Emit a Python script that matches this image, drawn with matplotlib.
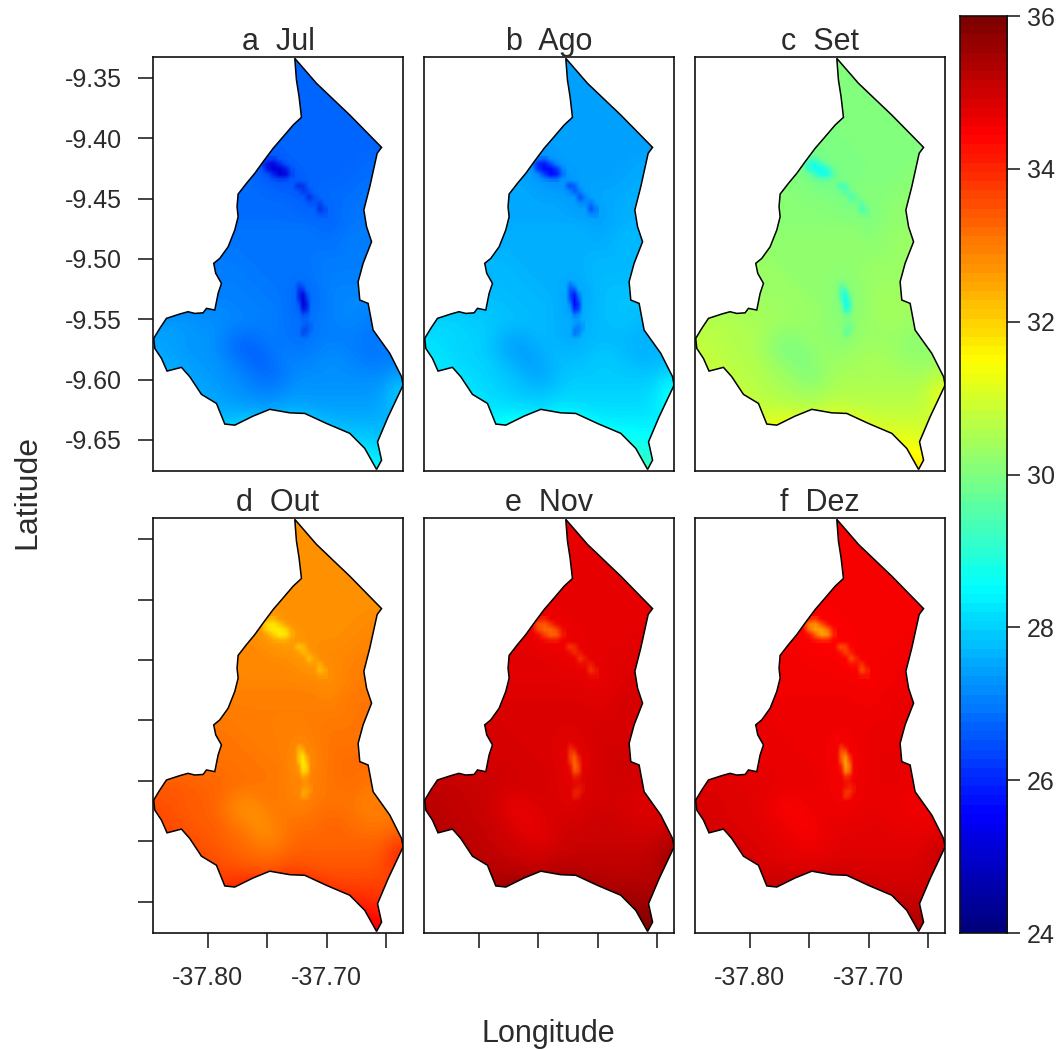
import numpy as np
import matplotlib
matplotlib.use("Agg")
import matplotlib.pyplot as plt
from matplotlib.patches import Polygon
from matplotlib.colors import LinearSegmentedColormap, Normalize

plt.rcParams['font.family'] = ['Liberation Sans', 'DejaVu Sans']

panel_titles = ["a  Jul", "b  Ago", "c  Set", "d  Out", "e  Nov", "f  Dez"]
# Level of each month (deg C), its spatial contrast, and the temperature of its spots
month_base = [27.0, 27.7, 30.3, 33.1, 34.95, 34.7]
month_gain = [1.0, 1.0, 1.0, 1.0, 0.7, 0.5]
spot_temp = [25.1, 25.6, 28.7, 31.7, 33.3, 32.6]

lon_ticks = [-37.80, -37.75, -37.70, -37.65]
lon_labels = ["-37.80", "", "-37.70", ""]
lat_ticks = [-9.35, -9.40, -9.45, -9.50, -9.55, -9.60, -9.65]
lat_labels = ["-9.35", "-9.40", "-9.45", "-9.50", "-9.55", "-9.60", "-9.65"]
cbar_ticks = [24, 26, 28, 30, 32, 34, 36]
palette = ["#00007F", "blue", "#007FFF", "cyan", "#7FFF7F", "yellow", "#FF7F00", "red", "#7F0000"]

xlim = (-37.846, -37.636)
ylim = (-9.6757, -9.3326)

border_lon = [-37.7269, -37.7255, -37.7233, -37.7213, -37.7283, -37.7367, -37.7451, -37.7535,
              -37.7605, -37.7675, -37.7745, -37.7754, -37.7745, -37.7773, -37.7829, -37.7899,
              -37.7950, -37.7933, -37.7885, -37.7913, -37.7941, -37.8011, -37.8039, -37.8109,
              -37.8166, -37.8235, -37.8347, -37.8403, -37.8454, -37.8445, -37.8389, -37.8342,
              -37.8221, -37.8151, -37.8053, -37.7927, -37.7857, -37.7773, -37.7619, -37.7479,
              -37.7311, -37.7185, -37.7003, -37.6807, -37.6681, -37.6582, -37.6540, -37.6574,
              -37.6485, -37.6359, -37.6372, -37.6471, -37.6611, -37.6653, -37.6723, -37.6737,
              -37.6695, -37.6624, -37.6666, -37.6689, -37.6639, -37.6577, -37.6540, -37.6807,
              -37.7087]
border_lat = [-9.3337, -9.3517, -9.3655, -9.3826, -9.3890, -9.3987, -9.4083, -9.4194,
              -9.4290, -9.4373, -9.4462, -9.4567, -9.4650, -9.4760, -9.4899, -9.4995,
              -9.5036, -9.5119, -9.5202, -9.5285, -9.5423, -9.5409, -9.5446, -9.5451,
              -9.5437, -9.5456, -9.5492, -9.5575, -9.5658, -9.5741, -9.5824, -9.5929,
              -9.5898, -9.5976, -9.6122, -9.6197, -9.6368, -9.6377, -9.6302, -9.6246,
              -9.6275, -9.6280, -9.6363, -9.6445, -9.6570, -9.6744, -9.6667, -9.6515,
              -9.6308, -9.6045, -9.5976, -9.5782, -9.5589, -9.5368, -9.5340, -9.5189,
              -9.5036, -9.4857, -9.4733, -9.4594, -9.4401, -9.4124, -9.4075, -9.3807,
              -9.3544]

# Temperature anomaly, tenths of deg C, north (top) to south, west to east
anomaly = [
 [-3]*18,
 [-3]*18,
 [-3]*18,
 [-3]*18,
 [-3]*18,
 [-3]*18,
 [-3,-3,-3,-3,-3,-3,-3,-3,-4,-3,-3,-3,-3,-3,-3,-3,-3,-3],
 [-3,-3,-3,-3,-3,-3,-3,-4,-6,-4,-3,-3,-3,-3,-3,-2,-2,-2],
 [-2,-2,-2,-2,-2,-2,-2,-3,-4,-6,-4,-3,-3,-3,-2,-2,-2,-2],
 [-2,-2,-2,-2,-2,-2,-2,-2,-3,-3,-4,-3,-2,-2,-2,-1,-1,-1],
 [-2,-2,-2,-2,-2,-2,-2,-2,-2,-2,-3,-4,-3,-2,-1,-1,-1,-1],
 [-1,-1,-1,-1,-1,-2,-2,-2,-2,-2,-2,-2,-3,-2,-1,-1,-1,-1],
 [-1,-1,-1,-1,-1,-1,-1,-1,-1,-1,-1,-1,-2,-1,0,0,0,0],
 [0,0,0,0,-1,-1,-1,-1,-1,-1,-1,-1,-1,-1,0,0,0,0],
 [0,0,0,0,0,0,-1,-1,-1,-1,-1,-1,0,0,0,0,0,0],
 [0,0,0,0,0,0,0,-1,-1,-1,-2,-1,0,0,0,0,0,0],
 [0,0,0,0,0,0,0,0,-1,-1,-3,-2,0,1,1,1,1,1],
 [1,1,1,1,1,1,0,0,0,-1,-3,-2,0,1,1,1,1,1],
 [3,3,3,2,2,1,1,0,0,-1,-2,-1,0,1,1,0,0,0],
 [4,4,3,3,2,0,-2,-1,0,-1,-2,-1,0,0,0,-1,-1,0],
 [5,4,3,3,2,-1,-3,-3,-1,0,-1,0,1,1,0,-1,-1,0],
 [5,5,4,3,3,1,-1,-3,-2,0,1,1,2,2,1,0,0,1],
 [6,6,5,4,3,2,1,-1,-2,0,2,2,2,2,2,2,2,5],
 [6,6,5,5,4,3,2,1,1,2,3,3,3,3,3,3,4,9],
 [6,6,6,6,5,5,4,4,3,5,5,4,4,4,4,4,5,8],
 [7,7,7,7,7,8,9,9,9,10,10,9,7,6,6,6,6,6],
 [8,8,8,8,8,11,14,13,13,13,13,12,10,9,9,8,8,8],
 [9,9,9,9,9,11,12,12,12,12,12,12,12,11,12,12,10,10],
 [10,10,10,10,10,10,10,10,10,10,10,10,12,12,13,15,14,12],
]

# Narrow features: how far each cell moves toward the month's spot temperature
spot_a_extent = (-37.7580, -37.7277, -9.4362, -9.4147)
spot_a = [[0, .2, .3, 0, 0, 0],
          [.2, .8, .9, .5, .1, 0],
          [0, .7, 1, 1, .7, .1],
          [0, .1, .6, 1, .9, .2],
          [0, 0, .1, .2, .2, 0]]
spot_b_extent = (-37.7311, -37.6992, -9.4661, -9.4329)
spot_b = [[0, 0, 0, 0, 0, 0, 0],
          [0, .5, .4, 0, 0, 0, 0],
          [0, .1, .4, .2, 0, 0, 0],
          [0, 0, 0, .5, .2, 0, 0],
          [0, 0, 0, .1, .1, .3, 0],
          [0, 0, 0, 0, 0, .5, .2],
          [0, 0, 0, 0, 0, .1, .1]]
spot_c_extent = (-37.7286, -37.7118, -9.5689, -9.5158)
spot_c = [[0, 0, 0, 0, 0],
          [0, .3, .1, 0, 0],
          [0, .5, .5, 0, 0],
          [0, .6, .9, .3, 0],
          [0, .5, 1, .5, 0],
          [0, .2, 1, .7, 0],
          [0, .1, .8, .6, 0],
          [0, 0, .3, .2, 0],
          [0, 0, .1, .1, 0],
          [0, 0, .1, .2, .1],
          [0, 0, .3, .3, .1],
          [0, 0, .3, .2, 0],
          [0, 0, 0, 0, 0]]
spots = [(spot_a, spot_a_extent), (spot_b, spot_b_extent), (spot_c, spot_c_extent)]

FW, FH = 1060, 1050

def px_axes(x0, y0, x1, y1):
    return fig.add_axes([x0 / FW, 1 - y1 / FH, (x1 - x0) / FW, (y1 - y0) / FH])

cmap = LinearSegmentedColormap.from_list("matlab_like", palette, N=256)
norm = Normalize(24, 36)

fig = plt.figure(figsize=(FW / 100, FH / 100), dpi=100, facecolor='white')

panel_x = [(153, 403), (424, 674), (695, 945)]
panel_y = [(57, 471), (518, 933)]
TXT = '#2b2b2b'
field = np.array(anomaly, dtype=float) / 10

for k in range(6):
    r, c = divmod(k, 3)
    ax = px_axes(panel_x[c][0], panel_y[r][0], panel_x[c][1], panel_y[r][1])
    data = month_base[k] + month_gain[k] * field
    im = ax.imshow(data, extent=(xlim[0], xlim[1], ylim[0], ylim[1]), origin='upper',
                   cmap=cmap, norm=norm, aspect='auto', interpolation='bicubic')
    outline = Polygon(list(zip(border_lon, border_lat)), closed=True, fill=False,
                      edgecolor='black', linewidth=1.1, zorder=3)
    ax.add_patch(outline)
    im.set_clip_path(outline)
    spot_colour = cmap(norm(spot_temp[k]))[:3]
    for depth, extent in spots:
        depth = np.array(depth, dtype=float)
        rgba = np.zeros(depth.shape + (4,))
        rgba[..., :3] = spot_colour
        rgba[..., 3] = depth
        ov = ax.imshow(rgba, extent=extent, origin='upper', aspect='auto',
                       interpolation='bilinear', zorder=2)
        ov.set_clip_path(outline)
    ax.set_xlim(xlim)
    ax.set_ylim(ylim)
    for s in ax.spines.values():
        s.set_linewidth(1.2)
        s.set_color('#111111')
    ax.tick_params(length=10.8, width=1.1, color='#111111', labelcolor=TXT, labelsize=18, pad=11.5)
    ax.tick_params(axis='x', pad=13)
    if r == 1:
        ax.set_xticks(lon_ticks)
        ax.set_xticklabels(lon_labels if c != 1 else [""] * 4)
    else:
        ax.set_xticks([])
    if c == 0:
        ax.set_yticks(lat_ticks)
        ax.set_yticklabels(lat_labels if r == 0 else [""] * 7)
    else:
        ax.set_yticks([])
    ax.set_title(panel_titles[k], fontsize=22, color=TXT, pad=4.3)

# colour bar, drawn in the stepped levels of the original
cax = px_axes(960, 16, 1007, 933)
levels = np.linspace(24, 36, 100).reshape(-1, 1)
cax.imshow(levels, extent=(0, 1, 24, 36), origin='lower', cmap=cmap, norm=norm,
           aspect='auto', interpolation='nearest')
cax.set_xticks([])
cax.yaxis.tick_right()
cax.set_yticks(cbar_ticks)
cax.tick_params(axis='y', length=9.4, width=1.1, color='#111111', labelcolor=TXT, labelsize=18, pad=5)
for s in cax.spines.values():
    s.set_linewidth(1.2)
    s.set_color('#111111')

fig.text(548 / FW, 1 - 1034 / FH, "Longitude", ha='center', va='center', fontsize=22, color=TXT)
fig.text(27 / FW, 1 - 492 / FH, "Latitude", ha='center', va='center', rotation=90, fontsize=23, color=TXT)

fig.savefig("out.png", dpi=100, facecolor='white')
